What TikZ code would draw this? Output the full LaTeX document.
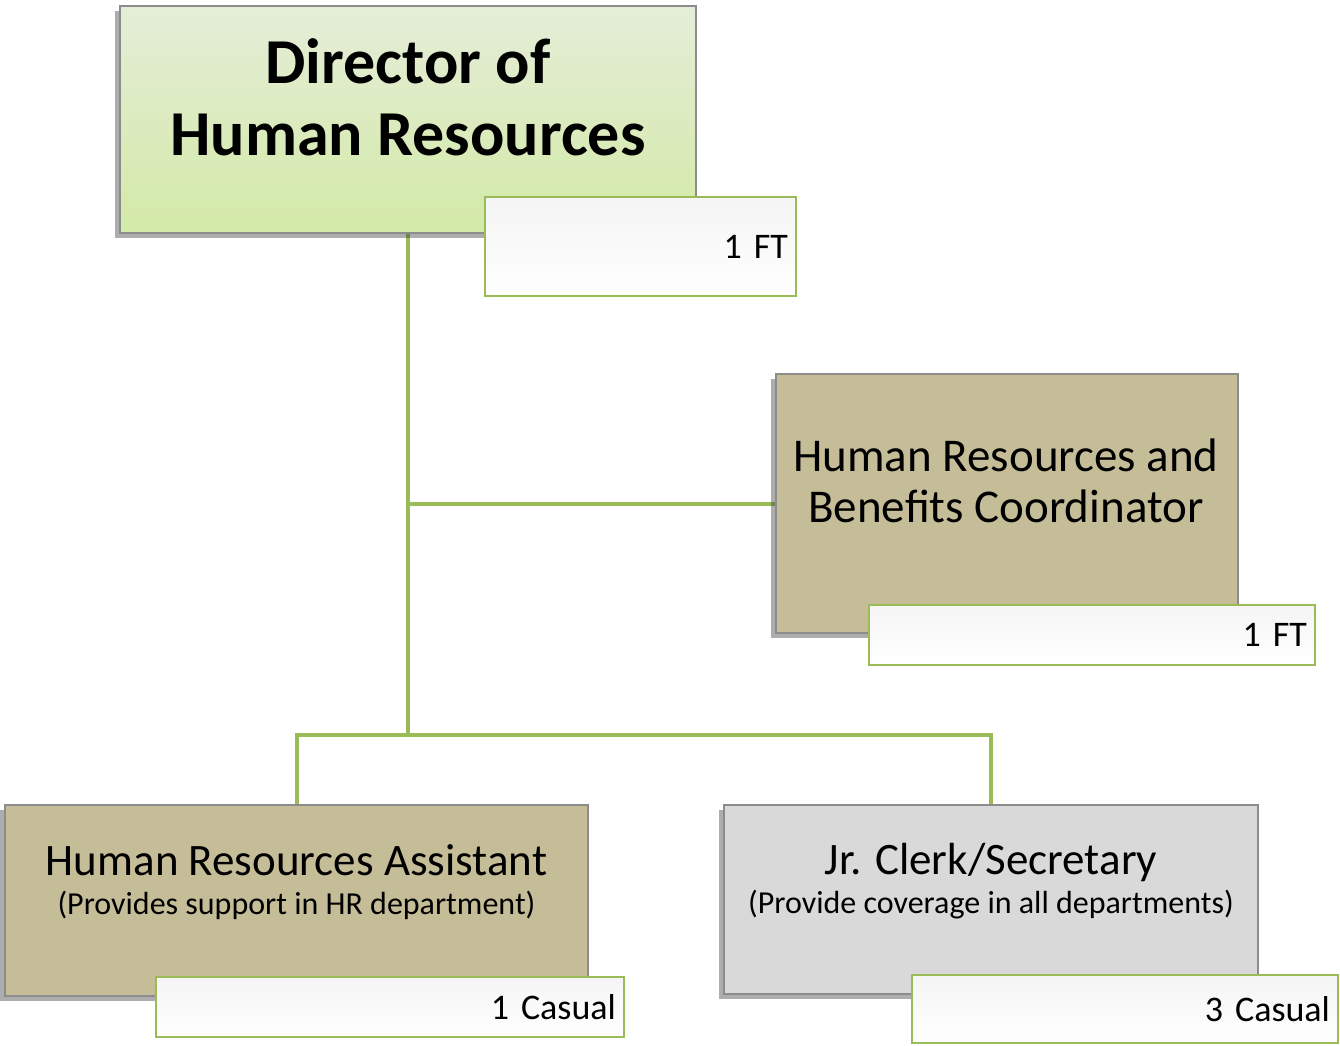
\documentclass[tikz,border=0pt]{standalone}
\usepackage{fontspec}
\setmainfont{Carlito}
\usetikzlibrary{shadows, backgrounds}
\definecolor{linkgreen}{RGB}{155,187,89}
\definecolor{headtop}{RGB}{229,237,216}
\definecolor{headbottom}{RGB}{211,234,167}
\definecolor{tanfill}{RGB}{196,189,151}
\definecolor{greyfill}{RGB}{217,217,217}
\tikzstyle{rolebox} = [rectangle, draw=black!45, line width=1.2pt, drop shadow={shadow xshift=-5pt, shadow yshift=-5pt, opacity=0.4, fill=black!80}]
\tikzstyle{headbox} = [rolebox, top color=headtop, bottom color=headbottom]
\tikzstyle{countbox} = [rectangle, draw=linkgreen, line width=2pt, top color=black!4, bottom color=white, inner xsep=8pt, align=right, font=\fontsize{36}{40}\selectfont]
\tikzstyle{link} = [linkgreen, line width=4pt]

\begin{document}
\begin{tikzpicture}[x=1pt, y=-1pt]
\useasboundingbox (0,0) rectangle (1340,1045);
\node (director) [headbox, minimum width=576pt, minimum height=227pt] at (408,119.5) {};
\node (directorname) [align=center, font=\fontsize{64}{72}\selectfont\bfseries] at (408,97) {Director of\\Human Resources};
\node (dirft) [countbox, text width=295pt, minimum height=99pt] at (640.5,246.5) {1 FT};

\node (coord) [rolebox, fill=tanfill, minimum width=462pt, minimum height=259pt] at (1007,503.5) {};
\node (coordname) [align=center, font=\fontsize{47}{51}\selectfont] at (1006,481) {Human Resources and\\Benefits Coordinator};
\node (coordft) [countbox, text width=430pt, minimum height=60pt] at (1092,635) {1 FT};

\node (assistant) [rolebox, fill=tanfill, minimum width=583pt, minimum height=191pt] at (296.5,900.5) {};
\node (assistantname) [align=center, font=\fontsize{45}{50}\selectfont] at (296.5,882) {Human Resources Assistant\\[-11pt]{\fontsize{32}{43}\selectfont (Provides support in HR department)}};
\node (assistantft) [countbox, text width=452pt, minimum height=60pt] at (390,1007) {1 Casual};

\node (clerk) [rolebox, fill=greyfill, minimum width=534pt, minimum height=189pt] at (991,899.5) {};
\node (clerkname) [align=center, font=\fontsize{45}{50}\selectfont] at (991,881) {Jr. Clerk/Secretary\\[-11pt]{\fontsize{32}{43}\selectfont (Provide coverage in all departments)}};
\node (clerkft) [countbox, text width=410pt, minimum height=68pt] at (1125,1009) {3 Casual};

% reporting lines
\coordinate (split) at (408,735);
\begin{scope}[on background layer]
\draw [link] (director.south) |- (coord.west);
\draw [link] (director.south) -- (split);
\draw [link] (assistant.north) |- (split) -| (clerk.north);
\end{scope}
\end{tikzpicture}
\end{document}
